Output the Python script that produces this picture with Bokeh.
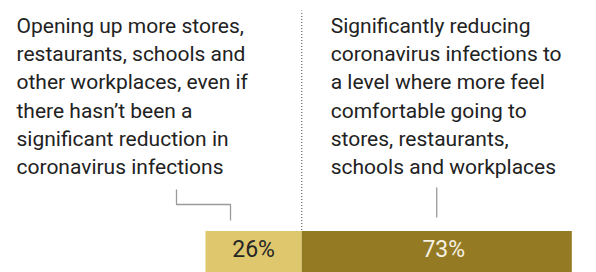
from bokeh.plotting import figure
from bokeh.models import Range1d, ColumnDataSource
from bokeh.core.properties import value
from bokeh.embed import file_html
from bokeh.resources import INLINE

# ---- data ----
categories = [
    "Opening up more stores,\nrestaurants, schools and\nother workplaces, even if\nthere hasn\u2019t been a\nsignificant reduction in\ncoronavirus infections",
    "Significantly reducing\ncoronavirus infections to\na level where more feel\ncomfortable going to\nstores, restaurants,\nschools and workplaces",
]
values = [26, 73]
bar_colors = ["#DFC76E", "#947A22"]
label_colors = ["#262626", "#F5F1E4"]

W, H = 596, 272
PX = 3.7            # pixels per percentage point
X0 = 205            # pixel position of 0%
FONT = "Roboto"

def dx(px):  # pixel from left -> data x
    return (px - X0) / PX

def dy(py_top):  # pixel from top -> data y (pixels from bottom)
    return H - py_top

p = figure(width=W, height=H, output_backend="svg", toolbar_location=None,
           x_range=Range1d(dx(0), dx(W)), y_range=Range1d(0, H),
           min_border=0, outline_line_color=None)
p.axis.visible = False
p.grid.visible = False
p.background_fill_color = "white"
p.border_fill_color = "white"

lefts = [0, values[0]]
rights = [values[0], values[0] + values[1]]
bar_top = dy(230.5)
src = ColumnDataSource(dict(left=lefts, right=rights, color=bar_colors,
                            mid=[(l + r) / 2 for l, r in zip(lefts, rights)],
                            lab=[f"{v}%" for v in values], lc=label_colors,
                            xo=[0, 7]))
p.quad(left="left", right="right", bottom=0, top=bar_top, fill_color="color",
       line_color=None, source=src)
p.text(x="mid", y=bar_top / 2 + 2, text="lab", text_color="lc", x_offset="xo",
       text_font=value(FONT), text_font_size="23px", text_align="center",
       text_baseline="middle", source=src)

# divider at the split
p.line([values[0], values[0]], [bar_top + 1, dy(10)], line_color="#7a7a7a",
       line_dash="1 2", line_width=1.4)

# category texts
p.text(x=[dx(16)], y=[dy(96)], text=[categories[0]], text_font=value(FONT),
       text_font_size="21px", text_color="#222222", text_align="left",
       text_baseline="middle", text_line_height=1.17)
p.text(x=[values[0] + 29 / PX], y=[dy(96)], text=[categories[1]], text_font=value(FONT),
       text_font_size="21px", text_color="#222222", text_align="left",
       text_baseline="middle", text_line_height=1.17)

# leader lines
p.line([dx(176), dx(176), dx(230), dx(230)], [dy(189), dy(204), dy(204), dy(220)],
       line_color="#9a9a9a", line_width=1.3)
mid2 = values[0] + values[1] / 2
p.line([mid2, mid2], [dy(187), dy(217)], line_color="#9a9a9a", line_width=1.3)

open("out.html", "w").write(file_html(p, INLINE))
